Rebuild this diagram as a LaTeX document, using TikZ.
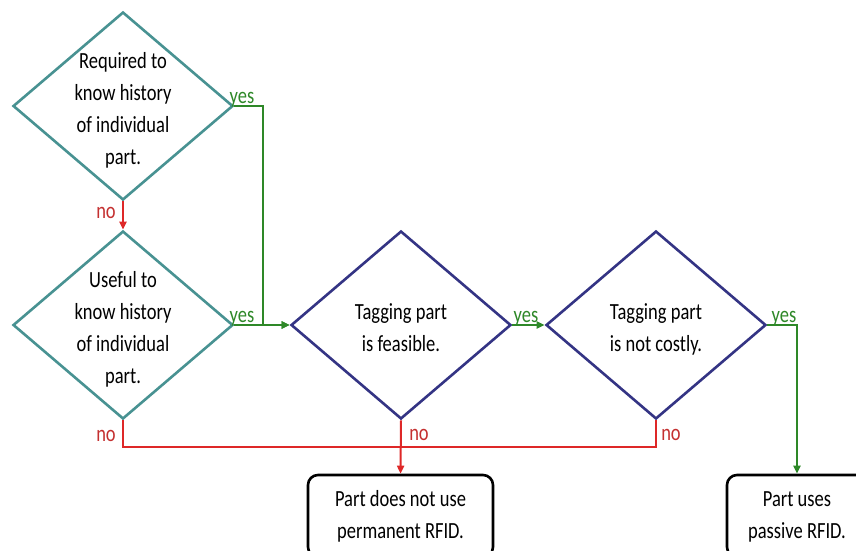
\documentclass[tikz,border=0pt]{standalone}
\usepackage{fontspec}
\setmainfont{Carlito}
\usetikzlibrary{shapes.geometric,arrows.meta}

\definecolor{qteal}{RGB}{72,146,146}
\definecolor{qblue}{RGB}{52,52,132}
\definecolor{yesgreen}{RGB}{46,136,40}
\definecolor{nored}{RGB}{222,40,40}
\definecolor{nolabel}{RGB}{196,48,48}

% text set slightly taller than wide
\newcommand\tallt[1]{\scalebox{1}[1.25]{\begin{tabular}{@{}c@{}}#1\end{tabular}}}

\begin{document}
\begin{tikzpicture}[x=1pt,y=-1pt,
  every node/.style={font=\fontsize{18.5}{25.6}\selectfont, text=black},
  question/.style={diamond, draw, line width=2.6pt, minimum width=220pt,
                   minimum height=188pt, inner sep=0pt},
  qa/.style={question, draw=qteal},
  qb/.style={question, draw=qblue},
  qtext/.style={inner sep=0pt, align=center},
  endbox/.style={draw=black, line width=2.6pt, rounded corners=10pt,
                 minimum height=82pt, inner sep=0pt},
  yesline/.style={draw=yesgreen, line width=2pt},
  noline/.style={draw=nored, line width=2pt},
  tip/.style={-{Triangle[length=8pt,width=7pt]}},
  yeslab/.style={inner sep=0pt, text=yesgreen},
  nolab/.style={inner sep=0pt, text=nolabel}
]
\useasboundingbox (0,0) rectangle (856,550);
\clip (0,0) rectangle (856,550);

% decision diamonds
\node[qa] (d1) at (123,106) {};
\node[qa] (d2) at (123,325) {};
\node[qb] (d3) at (401,325) {};
\node[qb] (d4) at (656,325) {};

\node[qtext] (t1) at (123,110) {\tallt{Required to\\know history\\of individual\\part.}};
\node[qtext] (t2) at (123,329) {\tallt{Useful to\\know history\\of individual\\part.}};
\node[qtext] (t3) at (401,329) {\tallt{Tagging part\\is feasible.}};
\node[qtext] (t4) at (656,329) {\tallt{Tagging part\\is not costly.}};

% outcomes
\node[endbox, minimum width=185pt] (b1) at (400.5,516) {\tallt{Part does not use\\permanent RFID.}};
\node[endbox, minimum width=140pt] (b2) at (797,516) {\tallt{Part uses\\passive RFID.}};

% junction of the "no" branches
\coordinate (j) at (401,447);

% "no" branches
\draw[noline, tip] (d1.south) -- (d2.north);
\draw[noline] (d2.south) |- (j);
\draw[noline] (d4.south) |- (j);
\draw[noline, tip] (d3.south) -- (b1.north);

% "yes" branches
\draw[yesline, tip] (d1.east) -- ++(29,0) |- (d3.west);
\draw[yesline, tip] (d2.east) -- (d3.west);
\draw[yesline, tip] (d3.east) -- (d4.west);
\draw[yesline, tip] (d4.east) -| (b2.north);

% branch labels
\node[yeslab] (y1) at (242,97) {\tallt{yes}};
\node[yeslab] (y2) at (242,316) {\tallt{yes}};
\node[yeslab] (y3) at (526,316) {\tallt{yes}};
\node[yeslab] (y4) at (784,316) {\tallt{yes}};
\node[nolab] (n1) at (106,212) {\tallt{no}};
\node[nolab] (n2) at (106,435) {\tallt{no}};
\node[nolab] (n3) at (419,434) {\tallt{no}};
\node[nolab] (n4) at (671,434) {\tallt{no}};
\end{tikzpicture}
\end{document}
